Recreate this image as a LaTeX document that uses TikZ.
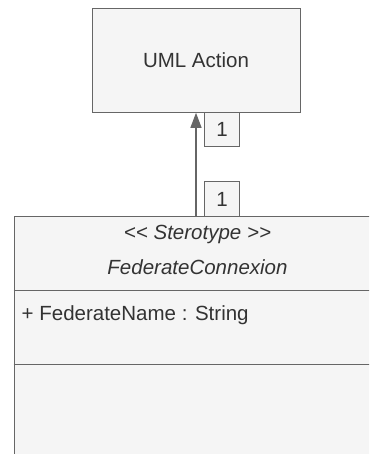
\documentclass[tikz,border=0pt]{standalone}
\usepackage{fontspec}
\setmainfont{Liberation Sans}
\usetikzlibrary{arrows.meta}
\definecolor{boxfill}{HTML}{F5F5F5}
\definecolor{boxline}{HTML}{666666}
\definecolor{txt}{HTML}{333333}
\begin{document}
\begin{tikzpicture}[x=1pt,y=-1pt,
  every node/.style={font=\fontsize{20.5}{24}\selectfont, text=txt, inner sep=0pt},
  umlbox/.style={draw=boxline, fill=boxfill, line width=1pt},
  multbox/.style={draw=boxline, fill=boxfill, line width=1pt, minimum width=35pt, minimum height=34pt},
  conn/.style={draw=boxline, line width=1.2pt, -{Triangle[length=15pt,width=11pt]}}]
\useasboundingbox (0,0) rectangle (369,454);
\clip (0,0) rectangle (369,454);
\fill[white] (0,0) rectangle (369,454);
\node[umlbox, minimum width=208pt, minimum height=104pt] (act) at (196,60.3) {UML Action};
\node[umlbox, minimum width=366pt, minimum height=264pt] (cls) at (197.2,348.7) {};
\draw[boxline, line width=1pt] (cls.west |- 0,290) -- (cls.east |- 0,290);
\draw[boxline, line width=1pt] (cls.west |- 0,364.3) -- (cls.east |- 0,364.3);
\node (st) at (197.5,234) {\itshape {<}{<} Sterotype {>}{>}};
\node (nm) at (197.5,267) {\itshape FederateConnexion};
\node[anchor=west] (attr) at (21.5,315) {+ FederateName : String};
\coordinate (src) at (196,216.7);
\draw[conn] (src) -- (src |- act.south);
\node[multbox] (m1) at (222,129.2) {1};
\node[multbox] (m2) at (222,199) {1};
\end{tikzpicture}
\end{document}
